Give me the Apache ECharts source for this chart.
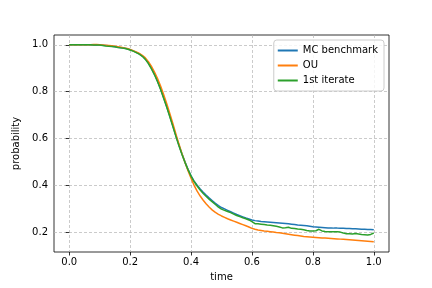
<!DOCTYPE html>
<html><head><meta charset="utf-8">
<script src="https://cdn.jsdelivr.net/npm/echarts@6/dist/echarts.min.js"></script>
<style>html,body{margin:0;padding:0;background:#fff}#c{width:432px;height:288px}</style>
</head><body><div id="c"></div>
<script>
const times = [0.00,0.01,0.02,0.03,0.04,0.05,0.06,0.07,0.08,0.09,
0.10,0.11,0.12,0.13,0.14,0.15,0.16,0.17,0.18,0.19,
0.20,0.21,0.22,0.23,0.24,0.25,0.26,0.27,0.28,0.29,
0.30,0.31,0.32,0.33,0.34,0.35,0.36,0.37,0.38,0.39,
0.40,0.41,0.42,0.43,0.44,0.45,0.46,0.47,0.48,0.49,
0.50,0.51,0.52,0.53,0.54,0.55,0.56,0.57,0.58,0.59,
0.60,0.61,0.62,0.63,0.64,0.65,0.66,0.67,0.68,0.69,
0.70,0.71,0.72,0.73,0.74,0.75,0.76,0.77,0.78,0.79,
0.80,0.81,0.82,0.83,0.84,0.85,0.86,0.87,0.88,0.89,
0.90,0.91,0.92,0.93,0.94,0.95,0.96,0.97,0.98,0.99,1.00];

const mcBenchmark = [1.000,1.000,1.000,1.000,1.000,1.000,1.000,1.000,0.999,0.999,
0.999,0.998,0.997,0.996,0.994,0.992,0.990,0.988,0.986,0.983,
0.979,0.974,0.968,0.961,0.952,0.940,0.922,0.900,0.875,0.845,
0.812,0.775,0.737,0.697,0.655,0.613,0.572,0.535,0.500,0.468,
0.440,0.418,0.400,0.384,0.370,0.357,0.345,0.334,0.323,0.313,
0.305,0.299,0.293,0.287,0.281,0.275,0.270,0.265,0.260,0.256,
0.252,0.249,0.247,0.245,0.244,0.243,0.242,0.241,0.240,0.239,
0.238,0.237,0.236,0.234,0.232,0.230,0.229,0.228,0.227,0.225,
0.223,0.222,0.221,0.220,0.219,0.218,0.218,0.217,0.217,0.216,
0.216,0.215,0.215,0.214,0.214,0.213,0.212,0.212,0.211,0.211,0.210];

const ou = [1.000,1.000,1.000,1.000,1.000,1.000,1.000,1.000,1.001,1.001,
1.000,0.999,0.998,0.997,0.996,0.994,0.992,0.990,0.987,0.984,
0.980,0.975,0.970,0.963,0.955,0.944,0.928,0.908,0.884,0.856,
0.824,0.788,0.749,0.708,0.665,0.620,0.577,0.536,0.498,0.462,
0.430,0.400,0.375,0.354,0.336,0.320,0.306,0.294,0.284,0.276,
0.269,0.263,0.257,0.252,0.247,0.242,0.237,0.232,0.227,0.222,
0.216,0.212,0.209,0.207,0.205,0.204,0.202,0.200,0.198,0.197,
0.195,0.193,0.191,0.189,0.187,0.185,0.183,0.181,0.180,0.179,
0.178,0.177,0.176,0.175,0.175,0.174,0.173,0.172,0.171,0.170,
0.169,0.168,0.167,0.166,0.165,0.164,0.163,0.162,0.161,0.160,0.159];

const firstIterate = [1.000,1.000,1.000,1.000,1.000,1.000,1.000,1.000,0.999,0.999,
0.999,0.997,0.995,0.994,0.993,0.992,0.989,0.987,0.985,0.982,
0.978,0.973,0.967,0.960,0.951,0.938,0.920,0.897,0.872,0.842,
0.809,0.772,0.734,0.694,0.652,0.610,0.570,0.533,0.498,0.467,
0.439,0.416,0.397,0.380,0.365,0.352,0.340,0.329,0.318,0.307,
0.298,0.293,0.288,0.283,0.277,0.271,0.266,0.261,0.257,0.252,
0.245,0.236,0.236,0.234,0.232,0.230,0.229,0.227,0.225,0.222,
0.218,0.219,0.221,0.216,0.215,0.213,0.212,0.210,0.207,0.205,
0.205,0.206,0.212,0.205,0.203,0.202,0.202,0.201,0.201,0.200,
0.196,0.193,0.193,0.192,0.194,0.192,0.190,0.189,0.188,0.190,0.196];

const xTicks = [0.0,0.2,0.4,0.6,0.8,1.0];
const yTicks = [0.2,0.4,0.6,0.8,1.0];
const seriesNames = ['MC benchmark','OU','1st iterate'];
const colors = ['#1f77b4','#ff7f0e','#2ca02c'];

const pair = arr => times.map((t,i)=>[t,arr[i]]);
const font = 'DejaVu Sans';
const chart = echarts.init(document.getElementById('c'), null, {renderer:'canvas'});
const gridLine = {show:true, lineStyle:{color:'#b4b4b4', width:0.7, type:[3,2]}};
chart.setOption({
  animation:false,
  backgroundColor:'#fff',
  grid:{left:54,right:43,top:35,bottom:36,show:true,borderColor:'#000',borderWidth:0.8,backgroundColor:'transparent'},
  legend:{
    data:seriesNames.map((n,k)=>({name:n, icon:'rect', itemStyle:{color:colors[k]}})),
    orient:'vertical', right:48, top:40,
    itemWidth:20, itemHeight:2, itemGap:4, padding:[5,6,5,4],
    backgroundColor:'rgba(255,255,255,0.8)', borderColor:'#cccccc', borderWidth:1, borderRadius:3,
    textStyle:{fontFamily:font,fontSize:10,color:'#000',lineHeight:11}
  },
  xAxis:{
    type:'value', min:-0.05, max:1.05,
    name:'time', nameLocation:'middle', nameGap:20,
    nameTextStyle:{fontFamily:font,fontSize:10,color:'#000'},
    axisLine:{show:false},
    axisTick:{show:true,length:3.5,inside:false,customValues:xTicks,lineStyle:{color:'#000',width:0.8}},
    axisLabel:{customValues:xTicks,formatter:v=>v.toFixed(1),fontFamily:font,fontSize:10,color:'#000',margin:5},
    splitLine:Object.assign({customValues:xTicks},gridLine)
  },
  yAxis:{
    type:'value', min:0.115, max:1.042,
    name:'probability', nameLocation:'middle', nameGap:28,
    nameTextStyle:{fontFamily:font,fontSize:10,color:'#000'},
    axisLine:{show:false},
    axisTick:{show:true,length:3.5,inside:false,customValues:yTicks,lineStyle:{color:'#000',width:0.8}},
    axisLabel:{customValues:yTicks,formatter:v=>v.toFixed(1),fontFamily:font,fontSize:10,color:'#000',margin:6},
    splitLine:Object.assign({customValues:yTicks},gridLine)
  },
  series:[mcBenchmark,ou,firstIterate].map((arr,k)=>({
    name:seriesNames[k], type:'line', data:pair(arr), symbol:'none', showSymbol:false,
    lineStyle:{color:colors[k],width:1.5}, itemStyle:{color:colors[k]}, z:2+k
  }))
});
</script></body></html>
